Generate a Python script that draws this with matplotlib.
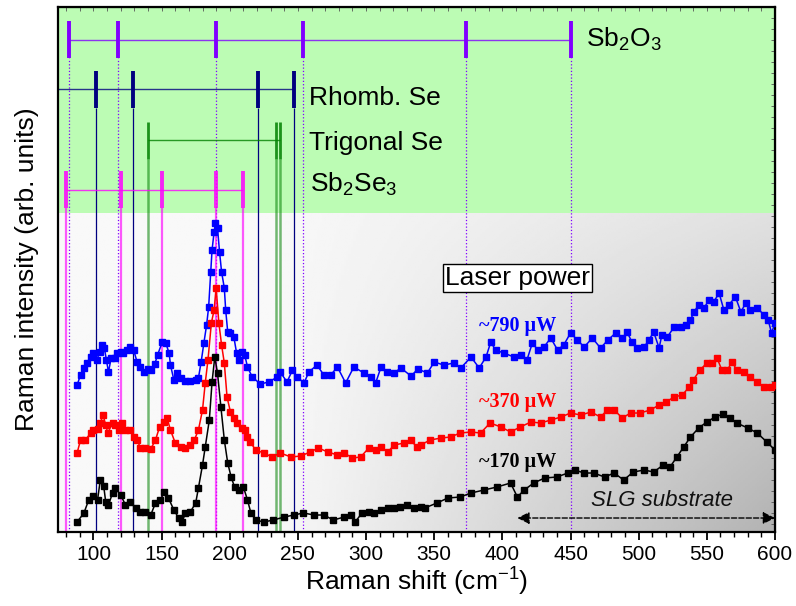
import matplotlib.pyplot as plt
import numpy as np
from matplotlib.ticker import MultipleLocator

plt.rcParams['font.family'] = ['Liberation Sans', 'DejaVu Sans']
plt.rcParams['mathtext.fontset'] = 'custom'
plt.rcParams['mathtext.rm'] = 'Liberation Sans'
plt.rcParams['mathtext.it'] = 'Liberation Sans:italic'

# spectra (Raman shift in cm-1, intensity in arb. units)
black_x = [88, 93, 96.5, 100, 103, 105, 107.5, 109, 111, 114, 116, 120, 123.5, 127, 131,
           134.5, 138, 142, 145.5, 149, 152, 155, 159, 162.5, 165, 167.5, 171, 175, 177, 180,
           182, 185, 187, 189, 191, 193.5, 196, 198.5, 201, 203.5, 206.5, 210, 213, 215.5, 219,
           225, 232, 240, 247, 254, 262, 269, 276, 284, 289, 292, 297, 302, 306, 311,
           316, 320.5, 325, 330, 335, 340, 343, 352, 360, 369, 377, 386.5, 396, 406, 411,
           416, 423, 431, 440, 448, 453, 460, 467, 475, 482, 489, 496, 504, 511, 518,
           523, 528, 533, 538, 544, 550, 556, 562, 567, 572, 580, 587, 594, 600]
black_y = [13, 22, 35, 39, 35, 55, 49, 33, 30, 42, 47, 40, 30, 33, 27,
           23, 23, 20, 32, 35, 43, 37, 25, 17, 13, 22, 23, 32, 47, 70,
           88, 115, 153, 178, 162, 128, 95, 72, 58, 48, 45, 48, 35, 22, 15,
           13, 15, 18, 20, 22, 20, 20, 15, 18, 20, 13, 22, 23, 22, 25,
           27, 27, 28, 30, 27, 28, 27, 32, 37, 38, 42, 45, 48, 52, 38,
           45, 52, 57, 58, 62, 65, 62, 62, 58, 62, 55, 63, 65, 63, 70,
           68, 78, 88, 98, 107, 113, 118, 121, 117, 112, 107, 102, 93, 85]

red_x = [88, 90.5, 94, 98, 100, 103, 105, 107, 109, 110.5, 114, 116, 118.5, 121, 123.5,
         127, 129.5, 132, 134.5, 138, 142, 145.5, 148.5, 151.5, 154, 156.5, 160, 164, 167.5, 171,
         174, 177, 180, 182, 184, 186.5, 188.5, 190, 192, 194, 196, 198, 200.5, 203, 205.5,
         209, 211, 213, 215, 219, 225, 231, 237, 245, 252, 259, 265, 272, 279, 284,
         290, 296, 302, 307, 311, 316, 320.5, 328, 333, 337, 340, 347, 355, 362, 369,
         377, 384, 391, 399, 406, 413, 421, 428, 435.5, 443, 450, 457.5, 465, 472, 477,
         482, 488, 494, 501, 508.5, 515, 520, 526, 532, 537, 540, 545, 550, 554, 557.5,
         561, 565, 568.5, 572, 577, 582, 587, 592, 597, 600]
red_y = [82, 95, 95, 102, 105, 106, 112, 120, 110, 102, 112, 110, 105, 112, 105,
         105, 98, 95, 87, 87, 86, 95, 108, 113, 117, 105, 92, 88, 87, 90,
         95, 105, 125, 152, 175, 212, 225, 247, 212, 190, 172, 138, 123, 117, 112,
         107, 105, 98, 93, 85, 82, 78, 82, 78, 79, 83, 87, 83, 80, 82,
         77, 78, 87, 85, 88, 83, 90, 92, 95, 88, 90, 95, 97, 98, 102,
         103, 102, 112, 108, 103, 108, 113, 112, 115, 118, 122, 120, 123, 118, 125,
         125, 117, 122, 122, 125, 130, 133, 138, 140, 148, 155, 165, 172, 172, 177,
         165, 165, 173, 165, 163, 158, 153, 148, 148, 150]

blue_x = [88, 90.5, 93, 95, 98, 100, 102.5, 104.5, 106.5, 108, 109.5, 111, 113, 115.5, 117.5,
          120, 122, 124.5, 127, 129.5, 132, 134.5, 137, 140, 142.5, 145, 147, 150.5, 153, 155.5,
          156.5, 159, 161.5, 164, 167.5, 171, 175, 177, 179, 181, 183, 184.5, 186, 187, 188.5,
          189.5, 191, 192.5, 194, 196, 197, 198.5, 200.5, 203, 205, 206.5, 209, 211, 213, 216.5,
          222.5, 228.5, 235, 237, 242, 246, 249.5, 254.5, 258, 264, 269, 274, 279, 285, 291,
          298.5, 303.5, 307, 311, 315.5, 320.5, 325.5, 333, 338, 345, 350, 357, 364.5, 369.5, 377,
          383, 388, 391.5, 395, 401, 408.5, 413.5, 418, 422, 426, 430.5, 435.5, 440.5, 445, 450,
          455, 460, 466, 472, 477.5, 483, 488, 491.5, 495, 499, 504, 507.5, 511, 515, 517,
          521, 526, 531, 534.5, 538, 540.5, 544, 548, 551.5, 555, 559, 562.5, 566, 571, 575,
          578.5, 582, 587, 592, 595, 597.5, 600]
blue_y = [150, 160, 167, 172, 178, 182, 175, 183, 190, 187, 175, 163, 177, 177, 182,
          183, 182, 185, 188, 185, 173, 168, 163, 166, 165, 171, 180, 193, 192, 182,
          170, 155, 162, 157, 154, 154, 155, 157, 173, 192, 210, 228, 263, 285, 303,
          312, 307, 283, 263, 247, 225, 203, 202, 198, 182, 175, 183, 180, 168, 158,
          151, 153, 158, 163, 153, 165, 158, 152, 163, 170, 160, 160, 168, 152, 168,
          162, 158, 152, 168, 163, 162, 167, 159, 166, 162, 173, 170, 172, 167, 178,
          167, 178, 193, 185, 182, 178, 180, 175, 192, 185, 188, 197, 185, 190, 202,
          195, 188, 197, 187, 195, 202, 197, 203, 193, 187, 188, 195, 203, 187, 200,
          198, 208, 208, 210, 215, 223, 230, 227, 235, 233, 242, 225, 230, 238, 223,
          232, 225, 227, 220, 215, 202, 212]

# reference mode positions (cm-1)
sb2o3_modes = [82, 118, 190, 254, 373, 450]
rhomb_modes = [102, 129, 221, 247]
trig_modes = [140, 234, 237]
sb2se3_modes = [80, 120, 150, 190, 210]

x_min, x_max = 74, 600
y_min, y_max = 3, 528
green_from = 322.5

fig = plt.figure(figsize=(7.96, 6.06), dpi=100)
ax = fig.add_axes([0.0729, 0.1221, 0.9007, 0.8663])
ax.set_xlim(x_min, x_max)
ax.set_ylim(y_min, y_max)

# grey gradient background in the lower part
gx = np.linspace(x_min, x_max, 300)
gy = np.linspace(y_min, green_from, 150)
GX, GY = np.meshgrid(gx, gy)
t = np.clip((GX - 230) / (600 - 230), 0, 1)
v = (green_from - GY) / (green_from - y_min)
gray = 0.975 - 0.095 * t - 0.18 * t * v
ax.imshow(gray, extent=(x_min, x_max, y_min, green_from), origin='lower',
          cmap='gray', vmin=0, vmax=1, aspect='auto', zorder=0)
ax.axhspan(green_from, y_max, color='#bcfcb4', zorder=0, lw=0)

# reference bars
groups = [
    (sb2o3_modes, '#8000ff', 495, 477, 514, sb2o3_modes[0], sb2o3_modes[-1], ':', 0.9, 1.0, 2.8),
    (rhomb_modes, '#000080', 446, 427, 464, x_min, rhomb_modes[-1], '-', 0.9, 1.0, 2.8),
    (trig_modes, '#008000', 395, 376, 413, trig_modes[0], trig_modes[-1], '-', 1.8, 0.55, 2.0),
    (sb2se3_modes, '#ff00ff', 345, 327, 364, sb2se3_modes[0], sb2se3_modes[-1], '-', 1.6, 0.65, 2.8),
]
for modes, col, yh, lo, hi, xs, xe, ls, vlw, al, tlw in groups:
    ax.hlines(yh, xs, xe, color=col, lw=1.0, alpha=0.8, zorder=2)
    ax.vlines(modes, lo, hi, color=col, lw=tlw, alpha=0.85 if al < 1 else 1.0, zorder=2)
    ax.vlines(modes, y_min, lo, color=col, lw=vlw, ls=ls, alpha=al, zorder=1)

ax.text(461, 488, r'Sb$_2$O$_3$', fontsize=19, va='baseline', ha='left')
ax.text(258, 430, 'Rhomb. Se', fontsize=19, va='baseline', ha='left')
ax.text(258, 385, 'Trigonal Se', fontsize=19, va='baseline', ha='left')
ax.text(259, 343, r'Sb$_2$Se$_3$', fontsize=19, va='baseline', ha='left')

# spectra
ms = 3.8
ax.plot(blue_x, blue_y, color='blue', marker='s', ms=ms, lw=1.1, zorder=3)
ax.plot(red_x, red_y, color='red', marker='s', ms=ms, lw=1.1, zorder=3)
ax.plot(black_x, black_y, color='black', marker='s', ms=ms, lw=1.1, zorder=3)

ax.text(411, 257, 'Laser power', fontsize=19, ha='center', va='center', zorder=4,
        bbox=dict(boxstyle='square,pad=0.08', fc='white', ec='black', lw=1))
serif = ['Liberation Serif', 'DejaVu Serif']
ax.text(411, 209, '~790 \u00b5W', color='blue', fontsize=14.5, fontweight='bold',
        family=serif, ha='center', va='center', zorder=4)
ax.text(411, 133, '~370 \u00b5W', color='red', fontsize=14.5, fontweight='bold',
        family=serif, ha='center', va='center', zorder=4)
ax.text(411, 73, '~170 \u00b5W', color='black', fontsize=14.5, fontweight='bold',
        family=serif, ha='center', va='center', zorder=4)

ax.text(517, 35, 'SLG substrate', fontsize=16, style='italic', color='#111111',
        ha='center', va='center', zorder=4)
ax.annotate('', xy=(411, 17), xytext=(600, 17),
            arrowprops=dict(arrowstyle='<|-|>', color='black', lw=1.0, ls='--',
                            mutation_scale=18, shrinkA=0, shrinkB=0), zorder=4)

# axes styling
ax.set_xlabel('Raman shift (cm$^{-1}$)', fontsize=19, labelpad=2)
ax.set_ylabel('Raman intensity (arb. units)', fontsize=19, labelpad=14)
ax.xaxis.set_minor_locator(MultipleLocator(10))
ax.set_xticks([100, 150, 200, 250, 300, 350, 400, 450, 500, 550, 600])
ax.tick_params(axis='x', which='major', direction='out', length=6, width=1.3,
               labelsize=15, pad=3)
ax.tick_params(axis='x', which='minor', direction='out', length=3.5, width=1.0)
ax.set_yticks([])
for s in ax.spines.values():
    s.set_linewidth(1.6)

top = ax.secondary_xaxis('top')
top.xaxis.set_major_locator(MultipleLocator(10))
top.tick_params(direction='in', length=3, width=0.6, labeltop=False, color='#555555')
right = ax.secondary_yaxis('right')
right.yaxis.set_major_locator(MultipleLocator(11))
right.tick_params(direction='in', length=3, width=0.6, labelright=False, color='#555555')

fig.savefig('out.png', dpi=100)
